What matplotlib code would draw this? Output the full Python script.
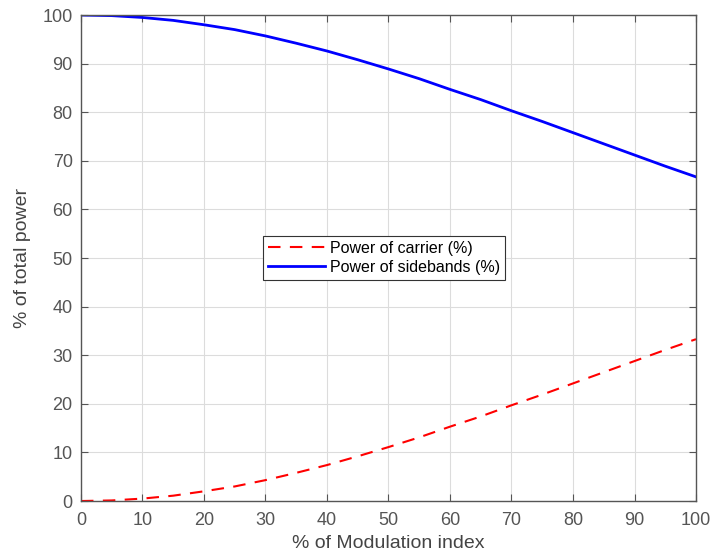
import matplotlib
matplotlib.use('Agg')
import matplotlib.pyplot as plt

# values
mod_index = [0, 5, 10, 15, 20, 25, 30, 35, 40, 45, 50, 55, 60, 65, 70, 75, 80, 85, 90, 95, 100]
carrier = [0, 0.12, 0.5, 1.1, 2.0, 3.0, 4.3, 5.8, 7.4, 9.2, 11.1, 13.1, 15.3, 17.4, 19.7, 21.9, 24.2,
           26.5, 28.8, 31.1, 33.3]
sidebands = [100, 99.88, 99.5, 98.9, 98.0, 97.0, 95.7, 94.2, 92.6, 90.8, 88.9, 86.9, 84.7, 82.6,
             80.3, 78.1, 75.8, 73.5, 71.2, 68.9, 66.7]
x_ticks = [0, 10, 20, 30, 40, 50, 60, 70, 80, 90, 100]
y_ticks = [0, 10, 20, 30, 40, 50, 60, 70, 80, 90, 100]

plt.rcParams['font.family'] = ['Liberation Sans', 'DejaVu Sans']

fig = plt.figure(figsize=(7.14, 5.57), dpi=100)
ax = fig.add_axes([0.1134, 0.1005, 0.8614, 0.8725])

ax.plot(mod_index, carrier, color='red', linestyle=(0, (6, 4.5)), linewidth=1.5,
        label='Power of carrier (%)')
ax.plot(mod_index, sidebands, color='blue', linewidth=2.0, label='Power of sidebands (%)')

ax.set_xlim(0, 100)
ax.set_ylim(0, 100)
ax.set_xticks(x_ticks)
ax.set_yticks(y_ticks)
ax.grid(True, color='#dcdcdc', linewidth=0.8)
ax.set_axisbelow(True)

for s in ax.spines.values():
    s.set_color('#555555')
    s.set_linewidth(1.0)
ax.tick_params(direction='in', length=5, colors='#555555', labelsize=13,
               top=True, right=True, labelcolor='#555555')
ax.tick_params(axis='x', pad=8)
ax.tick_params(axis='y', pad=6)

ax.set_xlabel('% of Modulation index', fontsize=14, color='#444444', labelpad=4)
ax.set_ylabel('% of total power', fontsize=14, color='#444444', labelpad=8)

leg = ax.legend(loc='center', bbox_to_anchor=(0.493, 0.5), fontsize=11.5, fancybox=False,
                framealpha=1, edgecolor='#333333', handlelength=3.6, borderpad=0.3,
                labelspacing=0.25, handletextpad=0.3)
leg.get_frame().set_linewidth(0.8)

fig.savefig('out.png', dpi=100)
